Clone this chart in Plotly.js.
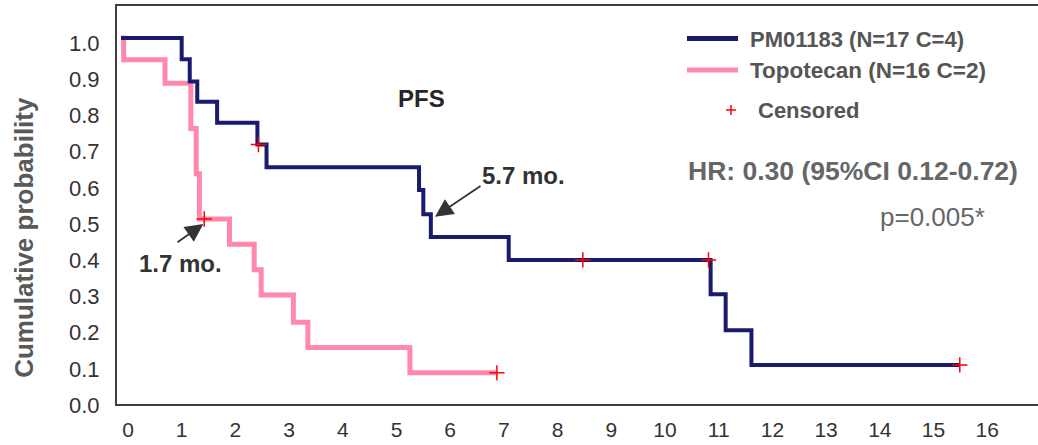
<!DOCTYPE html>
<html>
<head>
<meta charset="utf-8">
<script src="https://cdn.plot.ly/plotly-3.0.1.min.js"></script>
<style>
html,body{margin:0;padding:0;background:#fff;}
#chart{width:1038px;height:445px;}
</style>
</head>
<body>
<div id="chart"></div>
<script>
// ---- data (months, cumulative probability) ----
var pmName = "PM01183 (N=17 C=4)";
var pmTime = [0, 1.13, 1.28, 1.42, 1.79, 2.54, 2.71, 5.55, 5.63, 5.77, 7.22, 10.98, 11.26, 11.74, 15.62];
var pmSurv = [1.0, 0.941, 0.88, 0.824, 0.766, 0.706, 0.643, 0.58, 0.513, 0.45, 0.387, 0.292, 0.193, 0.097, 0.097];
var pmCensTime = [2.56, 8.60, 10.94, 15.62];
var pmCensSurv = [0.706, 0.387, 0.387, 0.097];

var topoName = "Topotecan (N=16 C=2)";
var topoTime = [0, 0.05, 0.82, 1.30, 1.40, 1.46, 2.02, 2.48, 2.61, 3.21, 3.48, 5.38, 7.0];
var topoSurv = [1.0, 0.94, 0.875, 0.75, 0.625, 0.5, 0.43, 0.36, 0.29, 0.215, 0.145, 0.075, 0.075];
var topoCensTime = [1.55, 7.0];
var topoCensSurv = [0.5, 0.075];

var xTicks = [0,1,2,3,4,5,6,7,8,9,10,11,12,13,14,15,16];
var yTicks = [0,0.1,0.2,0.3,0.4,0.5,0.6,0.7,0.8,0.9,1.0];
var yTickText = ["0.0","0.1","0.2","0.3","0.4","0.5","0.6","0.7","0.8","0.9","1.0"];

var pmMedianLabel = "5.7 mo.";
var topoMedianLabel = "1.7 mo.";
var hrText = "HR: 0.30 (95%CI 0.12-0.72)";
var pText = "p=0.005*";

// ---- styles ----
var NAVY = "#1a1a6e", PINK = "#ff88ab", RED = "#ff0000";
var FONT = "Liberation Sans, Arial, sans-serif";

var traces = [
  {x: topoTime, y: topoSurv, mode: "lines", line: {shape: "hv", color: PINK, width: 5}, name: topoName, showlegend: false, hoverinfo: "skip"},
  {x: pmTime, y: pmSurv, mode: "lines", line: {shape: "hv", color: NAVY, width: 4}, name: pmName, showlegend: false, hoverinfo: "skip"},
  {x: topoCensTime.concat(pmCensTime), y: topoCensSurv.concat(pmCensSurv), mode: "markers",
   marker: {symbol: "cross-thin", size: 11, line: {color: RED, width: 1.5}}, name: "Censored", showlegend: false, hoverinfo: "skip"}
];

// pixel helpers for decoration placement (x px = 121 + 53.7*t ; y px = 400 - 362*v)
function tx(px){ return (px - 121) / 53.7; }
function vy(py){ return (400 - py) / 362; }

var annotations = [
  {x: -0.101, y: 0.42, xref: "paper", yref: "paper", text: "<b>Cumulative probability</b>", textangle: -90, showarrow: false,
   font: {family: FONT, size: 26, color: "#595959"}, xanchor: "center", yanchor: "middle"},
  {x: tx(421.7), y: vy(98.3), text: "<b>PFS</b>", showarrow: false, font: {family: FONT, size: 24, color: "#262626"}, xanchor: "center", yanchor: "middle"},
  {x: tx(523.3), y: vy(175), text: "<b>" + pmMedianLabel + "</b>", showarrow: false, font: {family: FONT, size: 24, color: "#333"}, xanchor: "center", yanchor: "middle"},
  {x: tx(180), y: vy(263.3), text: "<b>" + topoMedianLabel + "</b>", showarrow: false, font: {family: FONT, size: 24, color: "#333"}, xanchor: "center", yanchor: "middle"},
  // arrows
  {x: tx(435), y: vy(216.7), ax: tx(482), ay: vy(185), axref: "x", ayref: "y", text: "", showarrow: true,
   arrowhead: 2, arrowsize: 2, arrowwidth: 1.8, arrowcolor: "#333"},
  {x: tx(203.3), y: vy(224), ax: tx(176), ay: vy(243.3), axref: "x", ayref: "y", text: "", showarrow: true,
   arrowhead: 2, arrowsize: 2, arrowwidth: 1.8, arrowcolor: "#333"},
  // HR and p
  {x: tx(686), y: vy(170.5), text: "<b>" + hrText + "</b>", showarrow: false, xanchor: "left", yanchor: "middle",
   font: {family: FONT, size: 26.5, color: "#666"}},
  {x: tx(987), y: vy(216.7), text: pText, showarrow: false, xanchor: "right", yanchor: "middle",
   font: {family: FONT, size: 26, color: "#666"}},
  // legend text
  {x: tx(748), y: vy(39), text: "<b>" + pmName + "</b>", showarrow: false, xanchor: "left", yanchor: "middle",
   font: {family: FONT, size: 22, color: "#555"}},
  {x: tx(748), y: vy(70), text: "<b>" + topoName + "</b>", showarrow: false, xanchor: "left", yanchor: "middle",
   font: {family: FONT, size: 22.5, color: "#555"}},
  {x: tx(756), y: vy(110), text: "<b>Censored</b>", showarrow: false, xanchor: "left", yanchor: "middle",
   font: {family: FONT, size: 22, color: "#555"}}
];

var shapes = [
  {type: "line", x0: tx(687), x1: tx(738), y0: vy(38.5), y1: vy(38.5), line: {color: NAVY, width: 5}},
  {type: "line", x0: tx(687), x1: tx(738), y0: vy(70), y1: vy(70), line: {color: PINK, width: 5}},
  {type: "line", x0: tx(726), x1: tx(736), y0: vy(110), y1: vy(110), line: {color: RED, width: 1.5}},
  {type: "line", x0: tx(731), x1: tx(731), y0: vy(105), y1: vy(115), line: {color: RED, width: 1.5}}
];

var layout = {
  width: 1038, height: 445,
  margin: {l: 117, r: 0, t: 6, b: 41, pad: 0},
  paper_bgcolor: "#fff", plot_bgcolor: "#fff",
  showlegend: false,
  font: {family: FONT, color: "#333"},
  xaxis: {
    range: [tx(117), tx(1038)], tickvals: xTicks, ticktext: xTicks.map(String),
    showgrid: false, zeroline: false, showline: true, mirror: true, linecolor: "#404040", linewidth: 2,
    ticks: "", ticklabelshift: 7, ticklabelstandoff: 6,
    tickfont: {family: FONT, size: 21, color: "#333"}
  },
  yaxis: {
    range: [vy(404), vy(6)], tickvals: yTicks, ticktext: yTickText,
    showgrid: false, zeroline: false, showline: true, linecolor: "#404040", linewidth: 2,
    ticks: "", ticklabelshift: 5, ticklabelstandoff: 11,
    tickfont: {family: FONT, size: 22, color: "#333"}
  },
  annotations: annotations,
  shapes: shapes
};

Plotly.newPlot("chart", traces, layout, {staticPlot: true, displayModeBar: false});
</script>
</body>
</html>
